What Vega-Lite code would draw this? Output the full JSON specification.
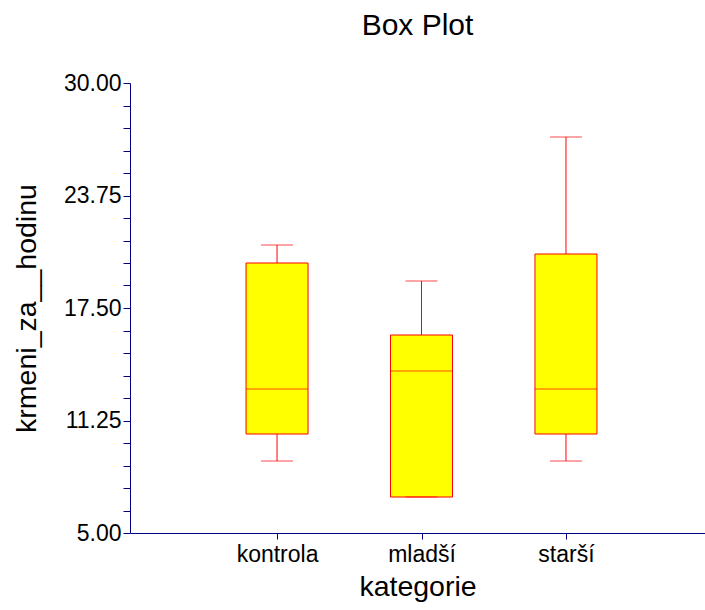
{
  "$schema": "https://vega.github.io/schema/vega-lite/v6.json",
  "width": 575,
  "height": 450,
  "autosize": {"type": "none"},
  "padding": {"left": 130, "top": 83, "right": 0, "bottom": 77},
  "background": "white",
  "config": {
    "view": {"stroke": null},
    "font": "Liberation Sans",
    "axisY": {
      "labelOverlap": false,
      "labelFontSize": 23,
      "labelColor": "black",
      "labelPadding": 2,
      "titleFontSize": 28.5,
      "titleFontWeight": "normal",
      "titleColor": "black",
      "titlePadding": 22,
      "domainColor": "#000080",
      "tickColor": "#000080",
      "tickSize": 7,
      "grid": false
    }
  },
  "title": {
    "text": "Box Plot",
    "anchor": "middle",
    "fontSize": 30,
    "font": "Liberation Sans",
    "fontWeight": "normal",
    "color": "black",
    "offset": 31
  },
  "data": {
    "values": [
      {"kategorie": "kontrola", "min": 9.0, "q1": 10.5, "median": 13.0, "q3": 20.0, "max": 21.0},
      {"kategorie": "mladší", "min": 7.0, "q1": 7.0, "median": 14.0, "q3": 16.0, "max": 19.0},
      {"kategorie": "starší", "min": 9.0, "q1": 10.5, "median": 13.0, "q3": 20.5, "max": 27.0}
    ]
  },
  "encoding": {
    "x": {
      "field": "kategorie",
      "type": "nominal",
      "sort": null,
      "scale": {"type": "point", "padding": 0.99, "align": 0.514},
      "axis": {
        "title": "kategorie",
        "labelAngle": 0,
        "labelFontSize": 23,
        "labelColor": "black",
        "labelPadding": 4,
        "titleFontSize": 28.5,
        "titleFontWeight": "normal",
        "titleColor": "black",
        "titlePadding": 6,
        "domainColor": "#000080",
        "tickColor": "#000080",
        "tickSize": 6,
        "grid": false
      }
    }
  },
  "layer": [
    {
      "mark": {"type": "rule", "color": "#ff0000", "strokeWidth": 1},
      "encoding": {
        "y": {
          "field": "min",
          "type": "quantitative",
          "scale": {"domain": [5, 30], "nice": false, "zero": false},
          "axis": {
            "title": "krmeni_za__hodinu",
            "values": [5, 6.25, 7.5, 8.75, 10, 11.25, 12.5, 13.75, 15, 16.25, 17.5, 18.75, 20, 21.25, 22.5, 23.75, 25, 26.25, 27.5, 28.75, 30],
            "labelExpr": "(datum.value - 5) % 6.25 == 0 ? format(datum.value, '.2f') : ''"
          }
        },
        "y2": {"field": "q1"}
      }
    },
    {
      "mark": {"type": "rule", "color": "#ff0000", "strokeWidth": 1},
      "encoding": {
        "y": {
          "field": "q3",
          "type": "quantitative",
          "axis": {
            "title": "krmeni_za__hodinu",
            "values": [5, 6.25, 7.5, 8.75, 10, 11.25, 12.5, 13.75, 15, 16.25, 17.5, 18.75, 20, 21.25, 22.5, 23.75, 25, 26.25, 27.5, 28.75, 30],
            "labelExpr": "(datum.value - 5) % 6.25 == 0 ? format(datum.value, '.2f') : ''"
          }
        },
        "y2": {"field": "max"}
      }
    },
    {
      "mark": {"type": "bar", "size": 62, "fill": "#ffff00", "stroke": "#ff0000", "strokeWidth": 1},
      "encoding": {
        "y": {
          "field": "q1",
          "type": "quantitative",
          "axis": {
            "title": "krmeni_za__hodinu",
            "values": [5, 6.25, 7.5, 8.75, 10, 11.25, 12.5, 13.75, 15, 16.25, 17.5, 18.75, 20, 21.25, 22.5, 23.75, 25, 26.25, 27.5, 28.75, 30],
            "labelExpr": "(datum.value - 5) % 6.25 == 0 ? format(datum.value, '.2f') : ''"
          }
        },
        "y2": {"field": "q3"}
      }
    },
    {
      "mark": {"type": "tick", "size": 62, "thickness": 1, "color": "#ff0000"},
      "encoding": {
        "y": {
          "field": "median",
          "type": "quantitative",
          "axis": {
            "title": "krmeni_za__hodinu",
            "values": [5, 6.25, 7.5, 8.75, 10, 11.25, 12.5, 13.75, 15, 16.25, 17.5, 18.75, 20, 21.25, 22.5, 23.75, 25, 26.25, 27.5, 28.75, 30],
            "labelExpr": "(datum.value - 5) % 6.25 == 0 ? format(datum.value, '.2f') : ''"
          }
        }
      }
    },
    {
      "mark": {"type": "tick", "size": 32, "thickness": 1, "color": "#ff0000"},
      "encoding": {
        "y": {
          "field": "min",
          "type": "quantitative",
          "axis": {
            "title": "krmeni_za__hodinu",
            "values": [5, 6.25, 7.5, 8.75, 10, 11.25, 12.5, 13.75, 15, 16.25, 17.5, 18.75, 20, 21.25, 22.5, 23.75, 25, 26.25, 27.5, 28.75, 30],
            "labelExpr": "(datum.value - 5) % 6.25 == 0 ? format(datum.value, '.2f') : ''"
          }
        }
      }
    },
    {
      "mark": {"type": "tick", "size": 32, "thickness": 1, "color": "#ff0000"},
      "encoding": {
        "y": {
          "field": "max",
          "type": "quantitative",
          "axis": {
            "title": "krmeni_za__hodinu",
            "values": [5, 6.25, 7.5, 8.75, 10, 11.25, 12.5, 13.75, 15, 16.25, 17.5, 18.75, 20, 21.25, 22.5, 23.75, 25, 26.25, 27.5, 28.75, 30],
            "labelExpr": "(datum.value - 5) % 6.25 == 0 ? format(datum.value, '.2f') : ''"
          }
        }
      }
    }
  ]
}
